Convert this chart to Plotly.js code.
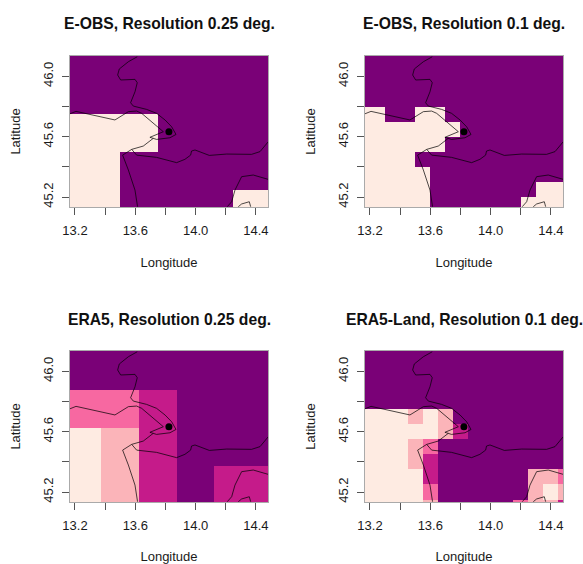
<!DOCTYPE html>
<html>
<head>
<meta charset="utf-8">
<script src="https://cdn.plot.ly/plotly-3.0.1.min.js"></script>
<style>html,body{margin:0;padding:0;background:#fff}</style>
</head>
<body>
<div id="chart" style="width:583px;height:564px"></div>
<script>
const titles = ["E-OBS, Resolution 0.25 deg.", "E-OBS, Resolution 0.1 deg.", "ERA5, Resolution 0.25 deg.", "ERA5-Land, Resolution 0.1 deg."];
const xTickVals = [13.2, 13.4, 13.6, 13.8, 14.0, 14.2, 14.4];
const xTickText = ["13.2", "", "13.6", "", "14.0", "", "14.4"];
const yTickVals = [45.2, 45.4, 45.6, 45.8, 46.0];
const yTickText = ["45.2", "", "45.6", "", "46.0"];
const station = {lon: [13.823], lat: [45.633]};

// Precipitation class (1 lightest .. 5 darkest), rows run south to north
const lonEobs25 = [13.125, 13.375, 13.625, 13.875, 14.125, 14.375, 14.625];
const latEobs25 = [45.125, 45.375, 45.625, 45.875, 46.125];
const zEobs25 = [
  [1,1,5,5,5,1,1],
  [1,1,5,5,5,5,5],
  [1,1,1,5,5,5,5],
  [5,5,5,5,5,5,5],
  [5,5,5,5,5,5,5]
];
const lonEobs10 = [13.15,13.25,13.35,13.45,13.55,13.65,13.75,13.85,13.95,14.05,14.15,14.25,14.35,14.45,14.55];
const latEobs10 = [45.15,45.25,45.35,45.45,45.55,45.65,45.75,45.85,45.95,46.05,46.15];
const zEobs10 = [
  [1,1,1,1,1,5,5,5,5,5,5,1,1,1,1],
  [1,1,1,1,1,5,5,5,5,5,5,5,1,1,1],
  [1,1,1,1,1,5,5,5,5,5,5,5,5,5,5],
  [1,1,1,1,5,5,5,5,5,5,5,5,5,5,5],
  [1,1,1,1,1,1,5,5,5,5,5,5,5,5,5],
  [1,1,1,1,1,1,1,5,5,5,5,5,5,5,5],
  [1,1,5,5,1,1,5,5,5,5,5,5,5,5,5],
  [5,5,5,5,5,5,5,5,5,5,5,5,5,5,5],
  [5,5,5,5,5,5,5,5,5,5,5,5,5,5,5],
  [5,5,5,5,5,5,5,5,5,5,5,5,5,5,5],
  [5,5,5,5,5,5,5,5,5,5,5,5,5,5,5]
];
const lonEra25 = [13.25, 13.5, 13.75, 14.0, 14.25, 14.5];
const latEra25 = [45.25, 45.5, 45.75, 46.0, 46.25];
const zEra25 = [
  [1,2,4,5,4,4],
  [1,2,4,5,5,5],
  [3,3,4,5,5,5],
  [5,5,5,5,5,5],
  [5,5,5,5,5,5]
];
const lonLand10 = [13.1,13.2,13.3,13.4,13.5,13.6,13.7,13.8,13.9,14.0,14.1,14.2,14.3,14.4,14.5];
const latLand10 = [45.1,45.2,45.3,45.4,45.5,45.6,45.7,45.8,45.9,46.0,46.1,46.2];
const zLand10 = [
  [1,1,1,1,1,2,5,5,5,5,5,3,2,2,4],
  [1,1,1,1,1,3,5,5,5,5,5,5,2,1,2],
  [1,1,1,1,1,4,5,5,5,5,5,5,2,2,3],
  [1,1,1,1,2,4,5,5,5,5,5,5,5,5,5],
  [1,1,1,1,2,3,5,5,5,5,5,5,5,5,5],
  [1,1,1,1,1,1,2,4,5,5,5,5,5,5,5],
  [1,1,1,1,2,1,2,5,5,5,5,5,5,5,5],
  [5,5,5,5,5,5,5,5,5,5,5,5,5,5,5],
  [5,5,5,5,5,5,5,5,5,5,5,5,5,5,5],
  [5,5,5,5,5,5,5,5,5,5,5,5,5,5,5],
  [5,5,5,5,5,5,5,5,5,5,5,5,5,5,5],
  [5,5,5,5,5,5,5,5,5,5,5,5,5,5,5]
];

// Coast and border outlines
const northLon = [13.613,13.554,13.494,13.483,13.503,13.598,13.613,13.598,13.569,13.587,13.675,13.741,13.797,13.841,13.870,13.830,13.741,13.697,13.786,13.697,13.642,13.609,13.554,13.465,13.344,13.207,13.167];
const northLat = [46.130,46.097,46.049,46.009,45.976,45.980,45.958,45.898,45.825,45.803,45.781,45.755,45.711,45.666,45.615,45.593,45.582,45.596,45.633,45.706,45.755,45.770,45.766,45.711,45.737,45.768,45.752];
const istriaLon = [13.719,13.653,13.576,13.516,13.554,13.598,13.615];
const istriaLat = [45.589,45.538,45.516,45.478,45.379,45.246,45.136];
const borderLon = [13.576,13.609,13.741,13.874,13.929,13.967,13.973,13.996,14.091,14.206,14.371,14.427,14.482];
const borderLat = [45.516,45.478,45.463,45.428,45.450,45.478,45.505,45.512,45.476,45.485,45.483,45.501,45.567];
const southLon = [14.210,14.239,14.261,14.305,14.382,14.482];
const southLat = [45.136,45.169,45.246,45.335,45.346,45.317];
const isleLon = [14.283,14.305,14.356,14.365];
const isleLat = [45.136,45.154,45.169,45.136];

const palette = ["#FEEBE2", "#FBB4B9", "#F768A1", "#C51B8A", "#7A0177"];
const steps = [];
palette.forEach((c, i) => { steps.push([i / 5, c]); steps.push([(i + 1) / 5, c]); });

const W = 583, H = 564;
const boxes = [
  {l: 70, r: 268, t: 56, b: 207},
  {l: 365, r: 563, t: 56, b: 207},
  {l: 70, r: 268, t: 351, b: 502},
  {l: 365, r: 563, t: 351, b: 502}
];
const grids = [
  [lonEobs25, latEobs25, zEobs25],
  [lonEobs10, latEobs10, zEobs10],
  [lonEra25, latEra25, zEra25],
  [lonLand10, latLand10, zLand10]
];
const outlines = [[northLon, northLat], [istriaLon, istriaLat], [borderLon, borderLat], [southLon, southLat], [isleLon, isleLat]];

const fontName = '"Liberation Sans", Arial, sans-serif';
const data = [];
const layout = {
  width: W, height: H, autosize: false, showlegend: false,
  margin: {l: 0, r: 0, t: 0, b: 0},
  paper_bgcolor: "#fff", plot_bgcolor: "#fff",
  font: {family: fontName, size: 13, color: "#1a1a1a"},
  annotations: []
};

boxes.forEach((b, i) => {
  const n = i === 0 ? "" : String(i + 1);
  const xa = "x" + n, ya = "y" + n;
  data.push({type: "heatmap", x: grids[i][0], y: grids[i][1], z: grids[i][2], xaxis: xa, yaxis: ya,
    colorscale: steps, zmin: 0.5, zmax: 5.5, showscale: false, hoverinfo: "skip"});
  outlines.forEach(o => data.push({type: "scatter", mode: "lines", x: o[0], y: o[1], xaxis: xa, yaxis: ya,
    line: {color: "rgba(0,0,0,0.7)", width: 1}, hoverinfo: "skip"}));
  data.push({type: "scatter", mode: "markers", x: station.lon, y: station.lat, xaxis: xa, yaxis: ya,
    marker: {color: "#000", size: 7}, hoverinfo: "skip"});
  const common = {ticks: "outside", ticklen: 7, tickwidth: 1, tickcolor: "#555", showgrid: false, zeroline: false,
    showline: true, mirror: true, linecolor: "#aaa", linewidth: 1, tickfont: {size: 13, color: "#1a1a1a"},
    ticklabelstandoff: 4};
  layout["xaxis" + n] = Object.assign({}, common, {
    domain: [b.l / W, b.r / W], range: [13.167, 14.48], anchor: ya,
    tickmode: "array", tickvals: xTickVals, ticktext: xTickText, tickangle: 0,
    title: {text: "Longitude", font: {size: 13, color: "#1a1a1a"}, standoff: 21}
  });
  layout["yaxis" + n] = Object.assign({}, common, {
    domain: [1 - b.b / H, 1 - b.t / H], range: [45.134, 46.135], anchor: xa,
    tickmode: "array", tickvals: yTickVals, ticktext: yTickText, tickangle: -90,
    title: {text: "Latitude", font: {size: 13, color: "#1a1a1a"}, standoff: 17}
  });
  layout.annotations.push({text: "<b>" + titles[i] + "</b>", xref: "paper", yref: "paper",
    x: (b.l + b.r) / 2 / W, y: 1 - (b.t - 32) / H, xanchor: "center", yanchor: "middle", showarrow: false,
    font: {size: 15.7, color: "#111", family: fontName}});
});

Plotly.newPlot("chart", data, layout, {displayModeBar: false, staticPlot: true});
</script>
</body>
</html>
